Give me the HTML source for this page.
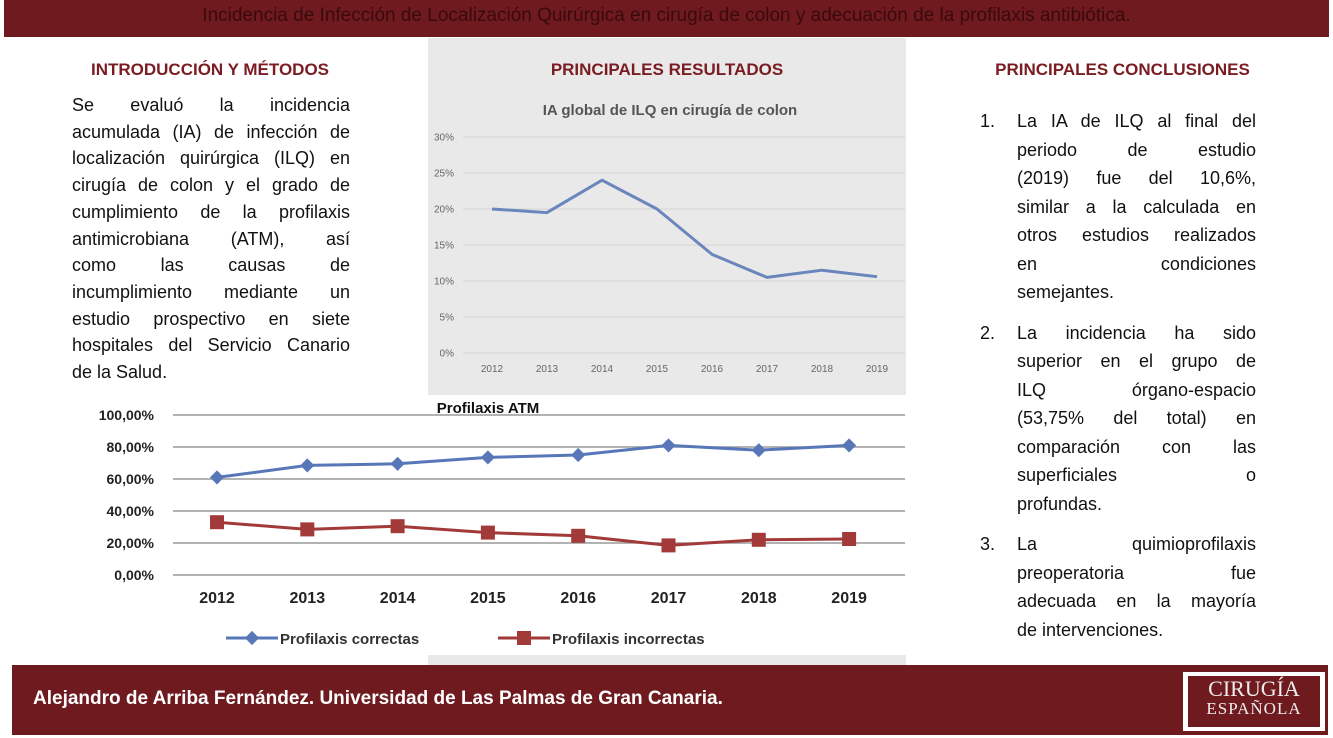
<!DOCTYPE html>
<html><head><meta charset="utf-8">
<style>
body{margin:0;width:1333px;height:738px;background:#fff;font-family:"Liberation Sans",sans-serif;position:relative;overflow:hidden}
.abs{position:absolute}
.h{color:#7a1c22;font-weight:bold;font-size:17px;text-align:center}
.just{text-align:justify;text-align-last:justify}
.p{font-size:18px;line-height:26.7px;color:#111}
ol{margin:0;padding:0;list-style:none}
li{position:relative;font-size:18px;line-height:28.5px;color:#111;margin-bottom:12px}
li span.n{position:absolute;left:-37px}
</style></head><body>
<div class="abs" style="left:4px;top:0;width:1325px;height:37px;background:#6e1a1f;color:#3a0a0d;font-size:19px;text-align:center;line-height:32px;white-space:nowrap">Incidencia de Infección de Localización Quirúrgica en cirugía de colon y adecuación de la profilaxis antibiótica.</div>
<div class="abs" style="left:428px;top:38px;width:478px;height:357px;background:#e9e9e9"></div>
<div class="abs" style="left:428px;top:655px;width:478px;height:10px;background:#e9e9e9"></div>
<div class="abs h" style="left:60px;top:60px;width:300px">INTRODUCCIÓN Y MÉTODOS</div>
<div class="abs h" style="left:428px;top:60px;width:478px">PRINCIPALES RESULTADOS</div>
<div class="abs h" style="left:960px;top:60px;width:325px">PRINCIPALES CONCLUSIONES</div>
<div class="abs p" style="left:72px;top:92px;width:278px">
<div class="just">Se evaluó la incidencia</div><div class="just">acumulada (IA) de infección de</div><div class="just">localización quirúrgica (ILQ) en</div><div class="just">cirugía de colon y el grado de</div><div class="just">cumplimiento de la profilaxis</div><div class="just">antimicrobiana (ATM), así</div><div class="just">como las causas de</div><div class="just">incumplimiento mediante un</div><div class="just">estudio prospectivo en siete</div><div class="just">hospitales del Servicio Canario</div><div>de la Salud.</div></div>
<ol class="abs" style="left:1017px;top:107px;width:239px">
<li><span class="n">1.</span><div class="just">La IA de ILQ al final del</div><div class="just">periodo de estudio</div><div class="just">(2019) fue del 10,6%,</div><div class="just">similar a la calculada en</div><div class="just">otros estudios realizados</div><div class="just">en condiciones</div><div>semejantes.</div></li>
<li><span class="n">2.</span><div class="just">La incidencia ha sido</div><div class="just">superior en el grupo de</div><div class="just">ILQ órgano-espacio</div><div class="just">(53,75% del total) en</div><div class="just">comparación con las</div><div class="just">superficiales o</div><div>profundas.</div></li>
<li><span class="n">3.</span><div class="just">La quimioprofilaxis</div><div class="just">preoperatoria fue</div><div class="just">adecuada en la mayoría</div><div>de intervenciones.</div></li>
</ol>
<svg class="abs" id="c1" style="left:0;top:0" width="1333" height="738"></svg>
<div class="abs" style="left:12px;top:665px;width:1316px;height:70px;background:#6e1a1f"></div>
<div class="abs" style="left:33px;top:688px;color:#fff;font-weight:bold;font-size:19px">Alejandro de Arriba Fernández. Universidad de Las Palmas de Gran Canaria.</div>
<div class="abs" style="left:1183px;top:672px;width:142px;height:59px;background:#fff">
<div style="position:absolute;left:5px;top:4px;right:5px;bottom:4px;background:#6e1a1f;color:#eee;font-family:'Liberation Serif',serif;text-align:center">
<div style="font-size:22px;line-height:22px;margin-top:2px">CIRUGÍA</div><div style="font-size:17px;line-height:17px;letter-spacing:1px">ESPAÑOLA</div></div></div>
<script>
const years=["2012","2013","2014","2015","2016","2017","2018","2019"];
const ilq=[20,19.5,24,20,13.7,10.5,11.5,10.6];
const ilqTicks=[0,5,10,15,20,25,30];
const correctas=[61,68.5,69.5,73.5,75,81,78,81];
const incorrectas=[33,28.5,30.5,26.5,24.5,18.5,22,22.5];
const atmTicks=[0,20,40,60,80,100];
const NS="http://www.w3.org/2000/svg";
const svg=document.getElementById('c1');
function mk(t,a,txt){const e=document.createElementNS(NS,t);for(const k in a)e.setAttribute(k,a[k]);if(txt!==undefined)e.textContent=txt;svg.appendChild(e);return e;}
// chart 1
const x1=i=>492+i*55, y1=v=>353-v*7.2;
let e=mk('text',{x:670,y:115,'text-anchor':'middle','font-size':15,'font-weight':'bold',fill:'#555'},'IA global de ILQ en cirugía de colon');


ilqTicks.forEach(t=>{
 let g=mk('line',{x1:463,x2:905,y1:y1(t),y2:y1(t),stroke:'#d4d4d4','stroke-width':1});
 
 
 let l=mk('text',{x:454,y:y1(t)+3.5,'text-anchor':'end','font-size':10,fill:'#666'},t+'%');
 
 
});
years.forEach((y,i)=>{
 let l=mk('text',{x:x1(i),y:372,'text-anchor':'middle','font-size':10,fill:'#666'},y);
 
 
});
let p=mk('polyline',{points:ilq.map((v,i)=>x1(i)+','+y1(v)).join(' '),fill:'none',stroke:'#6a86bd','stroke-width':3,'stroke-linejoin':'round'});


// chart 2
const x2=i=>217+i*90.3, y2=v=>575-v*1.6;
e=mk('text',{x:488,y:413,'text-anchor':'middle','font-size':15,'font-weight':'bold',fill:'#111'},'Profilaxis ATM');


atmTicks.forEach(t=>{
 let g=mk('line',{x1:173,x2:905,y1:y2(t),y2:y2(t),stroke:'#9a9a9a','stroke-width':1.5});
 
 
 let l=mk('text',{x:154,y:y2(t)+5,'text-anchor':'end','font-size':14,'font-weight':'bold',fill:'#222'},t.toFixed(2).replace('.',',')+'%');
 
 
});
years.forEach((y,i)=>{
 let l=mk('text',{x:x2(i),y:603,'text-anchor':'middle','font-size':16,'font-weight':'bold',fill:'#222'},y);
 
 
});
p=mk('polyline',{points:correctas.map((v,i)=>x2(i)+','+y2(v)).join(' '),fill:'none',stroke:'#5877b8','stroke-width':3});


correctas.forEach((v,i)=>{
 let d=mk('rect',{x:x2(i)-5,y:y2(v)-5,width:10,height:10,fill:'#5877b8',transform:`rotate(45 ${x2(i)} ${y2(v)})`});
 
 
});
p=mk('polyline',{points:incorrectas.map((v,i)=>x2(i)+','+y2(v)).join(' '),fill:'none',stroke:'#a33a3a','stroke-width':3});


incorrectas.forEach((v,i)=>{
 let d=mk('rect',{x:x2(i)-7,y:y2(v)-7,width:14,height:14,fill:'#a33a3a'});
 
 
});
// legend
let l1=mk('line',{x1:226,x2:278,y1:638,y2:638,stroke:'#5877b8','stroke-width':3});


let m1=mk('rect',{x:247,y:633,width:10,height:10,fill:'#5877b8',transform:'rotate(45 252 638)'});


let t1=mk('text',{x:280,y:644,'font-size':15,'font-weight':'bold',fill:'#333'},'Profilaxis correctas');


let l2=mk('line',{x1:498,x2:550,y1:638,y2:638,stroke:'#a33a3a','stroke-width':3});


let m2=mk('rect',{x:517,y:631,width:14,height:14,fill:'#a33a3a'});


let t2=mk('text',{x:552,y:644,'font-size':15,'font-weight':'bold',fill:'#333'},'Profilaxis incorrectas');


</script>
</body></html>
